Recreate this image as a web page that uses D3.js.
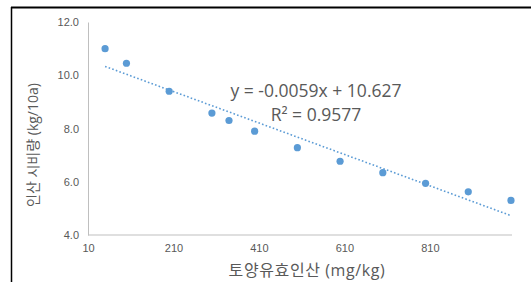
<!DOCTYPE html>
<html>
<head>
<meta charset="utf-8">
<script src="https://cdn.jsdelivr.net/npm/d3@7"></script>
<style>
  body { margin: 0; background: #fff; }
  svg { display: block; font-family: "Open Sans", "Noto Sans CJK KR", sans-serif; }
</style>
</head>
<body>
<svg id="chart" width="531" height="282"></svg>
<script>
// soil available phosphate (mg/kg) vs phosphate fertilizer (kg/10a)
const soilP = [50, 100, 200, 300, 340, 400, 500, 600, 700, 800, 900, 1000];
const fertP = [11.0, 10.45, 9.4, 8.58, 8.3, 7.9, 7.28, 6.77, 6.34, 5.94, 5.62, 5.3];
const xTicks = [10, 210, 410, 610, 810];
const yTicks = [4, 6, 8, 10, 12];
const slope = -0.0059;
const intercept = 10.627;
const eqLabel = "y = -0.0059x + 10.627";
const r2Label = "R² = 0.9577";

const svg = d3.select("#chart");
const blue = "#5b9bd5";
const grey = "#595959";

// frame lines
svg.append("line").attr("x1", 11).attr("x2", 531).attr("y1", 7.5).attr("y2", 7.5)
  .attr("stroke", "#000").attr("stroke-width", 2);
svg.append("line").attr("x1", 11.5).attr("x2", 11.5).attr("y1", 7).attr("y2", 282)
  .attr("stroke", "#000").attr("stroke-width", 1.5);

let x = d3.scaleLinear().domain([10, 1000]).range([88, 511]);
let y = d3.scaleLinear().domain([4, 12]).range([235, 22]);

// axes
let xAxis = svg.append("g").attr("transform", "translate(0,235)")
  .call(d3.axisBottom(x).tickValues(xTicks).tickSize(0).tickPadding(9));
xAxis.select(".domain").attr("stroke", "#bfbfbf").attr("d", "M88,0H512");
xAxis.selectAll("text").attr("fill", grey).style("font-size", "11px");

let yAxis = svg.append("g").attr("transform", "translate(88,0)")
  .call(d3.axisLeft(y).tickValues(yTicks).tickSize(0).tickPadding(9).tickFormat(d3.format(".1f")));
yAxis.select(".domain").attr("stroke", "#bfbfbf");
yAxis.selectAll("text").attr("fill", grey).style("font-size", "11px");

// axis titles
svg.append("text").attr("x", 307).attr("y", 276).attr("text-anchor", "middle")
  .attr("fill", grey).style("font-size", "16px").style("letter-spacing", "0.6px")
  .text("토양유효인산 (mg/kg)");
svg.append("text").attr("transform", "translate(38,145) rotate(-90)").attr("text-anchor", "middle")
  .attr("fill", grey).style("font-size", "14px").text("인산 시비량 (kg/10a)");

// trend line
let xs = d3.extent(soilP);
svg.append("line")
  .attr("x1", x(xs[0])).attr("y1", y(slope * xs[0] + intercept))
  .attr("x2", x(xs[1])).attr("y2", y(slope * xs[1] + intercept))
  .attr("stroke", blue).attr("stroke-width", 1.6).attr("stroke-dasharray", "1.6 2.2");

// points
svg.selectAll("circle.pt")
  .data(soilP)
  .enter()
  .append("circle")
  .attr("class", "pt")
  .attr("cx", (d) => x(d))
  .attr("cy", (d, i) => y(fertP[i]))
  .attr("r", 3.6)
  .attr("fill", blue);

// equation label
svg.append("text").attr("x", 316).attr("y", 97).attr("text-anchor", "middle")
  .attr("fill", grey).style("font-size", "17.5px").text(eqLabel);
svg.append("text").attr("x", 316).attr("y", 121).attr("text-anchor", "middle")
  .attr("fill", grey).style("font-size", "17.5px").text(r2Label);
</script>
</body>
</html>
